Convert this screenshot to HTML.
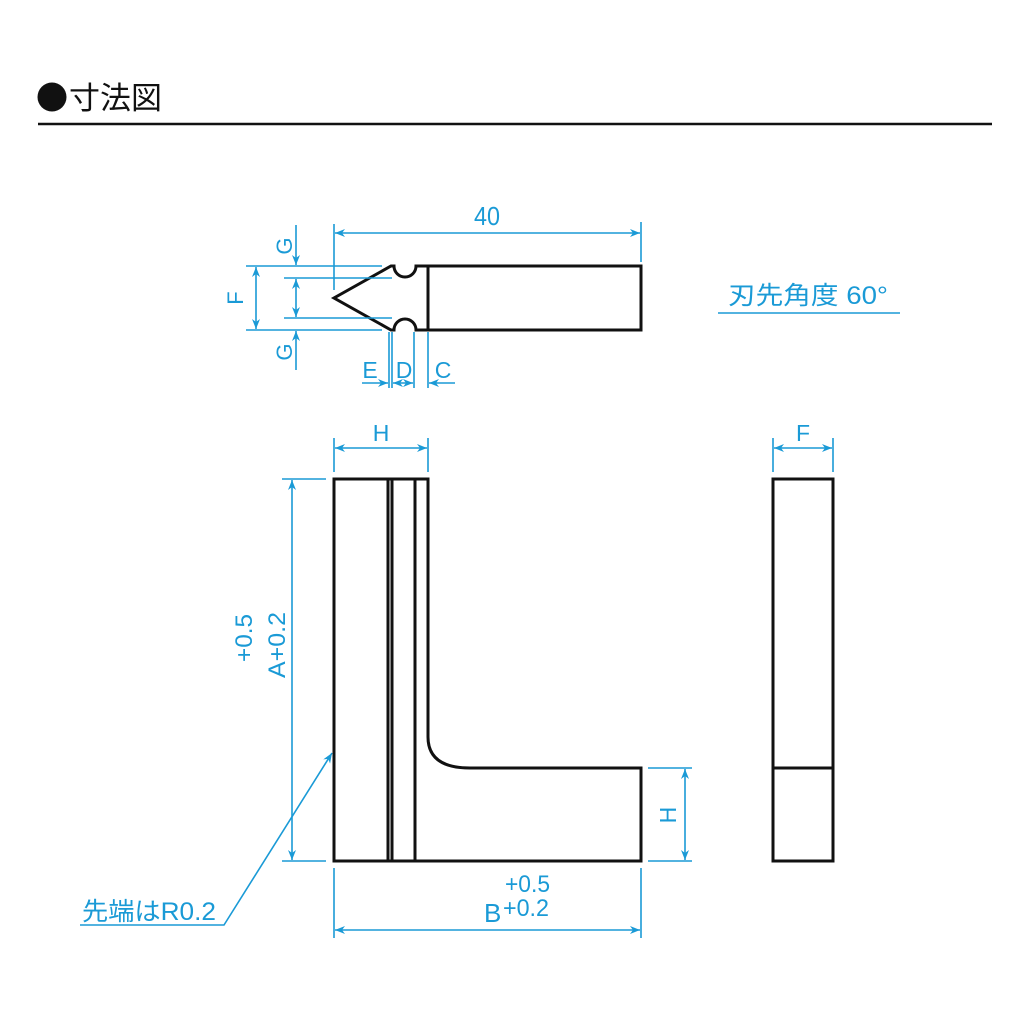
<!DOCTYPE html>
<html><head><meta charset="utf-8"><style>
html,body{margin:0;padding:0;background:#fff;width:1024px;height:1024px;overflow:hidden}
svg{display:block}
.t{font-family:"Liberation Sans","Noto Sans CJK JP",sans-serif;fill:#1a9ad6}
</style></head><body>
<svg width="1024" height="1024" viewBox="0 0 1024 1024" xmlns="http://www.w3.org/2000/svg">
<defs>
<marker id="a" viewBox="0 0 10 10" refX="10" refY="5" markerWidth="10" markerHeight="10" markerUnits="userSpaceOnUse" orient="auto-start-reverse">
<path d="M0,1 L10,5 L0,9 L3,5 Z" fill="#1a9ad6"/></marker>
</defs>
<circle cx="52" cy="97" r="14.5" fill="#111"/>
<text x="69" y="109" font-family="'Liberation Sans','Noto Sans CJK JP',sans-serif" font-size="31" fill="#111">寸法図</text>
<line x1="38" y1="124" x2="992" y2="124" stroke="#111" stroke-width="2.5"/>

<g stroke="#111" stroke-width="3" fill="none" stroke-linejoin="miter">
<path d="M428,266 H641 V330 H428 Z"/>
<path d="M428,266 H416 A11,11 0 0 1 394,266 L391,266 L334,298 L391,330 L394,330 A11,11 0 0 1 416,330 H428"/>
<path d="M334,479 H428 V737 Q428,768 470,768 H641 V861 H334 Z"/>
<line x1="388" y1="479" x2="388" y2="861"/>
<line x1="392" y1="479" x2="392" y2="861"/>
<line x1="415" y1="479" x2="415" y2="861"/>
<rect x="773" y="479" width="60" height="382"/>
<line x1="773" y1="768" x2="833" y2="768"/>
</g>

<g stroke="#1a9ad6" stroke-width="1.6" fill="none">
<line x1="334" y1="224" x2="334" y2="290"/>
<line x1="641" y1="222" x2="641" y2="262"/>
<line x1="335" y1="233" x2="640" y2="233" marker-start="url(#a)" marker-end="url(#a)"/>
<line x1="246" y1="266" x2="382" y2="266"/>
<line x1="284" y1="278" x2="392" y2="278"/>
<line x1="284" y1="318" x2="392" y2="318"/>
<line x1="246" y1="330" x2="382" y2="330"/>
<line x1="256" y1="267" x2="256" y2="329" marker-start="url(#a)" marker-end="url(#a)"/>
<line x1="296" y1="225" x2="296" y2="265" marker-end="url(#a)"/>
<line x1="296" y1="298" x2="296" y2="279" marker-end="url(#a)"/>
<line x1="296" y1="298" x2="296" y2="317" marker-end="url(#a)"/>
<line x1="296" y1="370" x2="296" y2="331" marker-end="url(#a)"/>
<line x1="389" y1="332" x2="389" y2="388"/>
<line x1="392" y1="332" x2="392" y2="388"/>
<line x1="414" y1="332" x2="414" y2="388"/>
<line x1="428" y1="332" x2="428" y2="388"/>
<line x1="362" y1="383" x2="388" y2="383" marker-end="url(#a)"/>
<line x1="393" y1="383" x2="413" y2="383" marker-start="url(#a)" marker-end="url(#a)"/>
<line x1="455" y1="383" x2="429" y2="383" marker-end="url(#a)"/>
<line x1="718" y1="313" x2="900" y2="313"/>
<line x1="334" y1="438" x2="334" y2="472"/>
<line x1="428" y1="438" x2="428" y2="472"/>
<line x1="335" y1="448" x2="427" y2="448" marker-start="url(#a)" marker-end="url(#a)"/>
<line x1="773" y1="438" x2="773" y2="472"/>
<line x1="833" y1="438" x2="833" y2="472"/>
<line x1="774" y1="448" x2="832" y2="448" marker-start="url(#a)" marker-end="url(#a)"/>
<line x1="282" y1="479" x2="326" y2="479"/>
<line x1="282" y1="861" x2="326" y2="861"/>
<line x1="292" y1="480" x2="292" y2="860" marker-start="url(#a)" marker-end="url(#a)"/>
<line x1="648" y1="768" x2="692" y2="768"/>
<line x1="648" y1="861" x2="692" y2="861"/>
<line x1="685" y1="769" x2="685" y2="860" marker-start="url(#a)" marker-end="url(#a)"/>
<line x1="334" y1="868" x2="334" y2="938"/>
<line x1="641" y1="868" x2="641" y2="938"/>
<line x1="335" y1="930" x2="640" y2="930" marker-start="url(#a)" marker-end="url(#a)"/>
<polyline points="80,925 224,925 332,753" marker-end="url(#a)"/>
</g>

<g class="t">
<text x="487" y="225" font-size="26" text-anchor="middle" textLength="26" lengthAdjust="spacingAndGlyphs">40</text>
<text transform="translate(292,246) rotate(-90)" font-size="22" text-anchor="middle">G</text>
<text transform="translate(292,352) rotate(-90)" font-size="22" text-anchor="middle">G</text>
<text transform="translate(243,298) rotate(-90)" font-size="22" text-anchor="middle">F</text>
<text x="370" y="378" font-size="23" text-anchor="middle">E</text>
<text x="404" y="378" font-size="23" text-anchor="middle">D</text>
<text x="443" y="378" font-size="23" text-anchor="middle">C</text>
<text x="728" y="304" font-size="25" textLength="160" lengthAdjust="spacingAndGlyphs">刃先角度 60°</text>
<text x="381" y="441" font-size="23" text-anchor="middle">H</text>
<text x="803" y="441" font-size="23" text-anchor="middle">F</text>
<text transform="translate(285,678) rotate(-90)" font-size="24" textLength="66" lengthAdjust="spacingAndGlyphs">A+0.2</text>
<text transform="translate(252,662) rotate(-90)" font-size="24" textLength="48" lengthAdjust="spacingAndGlyphs">+0.5</text>
<text transform="translate(676,815) rotate(-90)" font-size="23" text-anchor="middle">H</text>
<text x="505" y="892" font-size="24" textLength="45" lengthAdjust="spacingAndGlyphs">+0.5</text>
<text x="484" y="922" font-size="26">B</text>
<text x="503" y="916" font-size="24" textLength="46" lengthAdjust="spacingAndGlyphs">+0.2</text>
<text x="82" y="920" font-size="25" textLength="134" lengthAdjust="spacingAndGlyphs">先端はR0.2</text>
</g>
</svg>
</body></html>
